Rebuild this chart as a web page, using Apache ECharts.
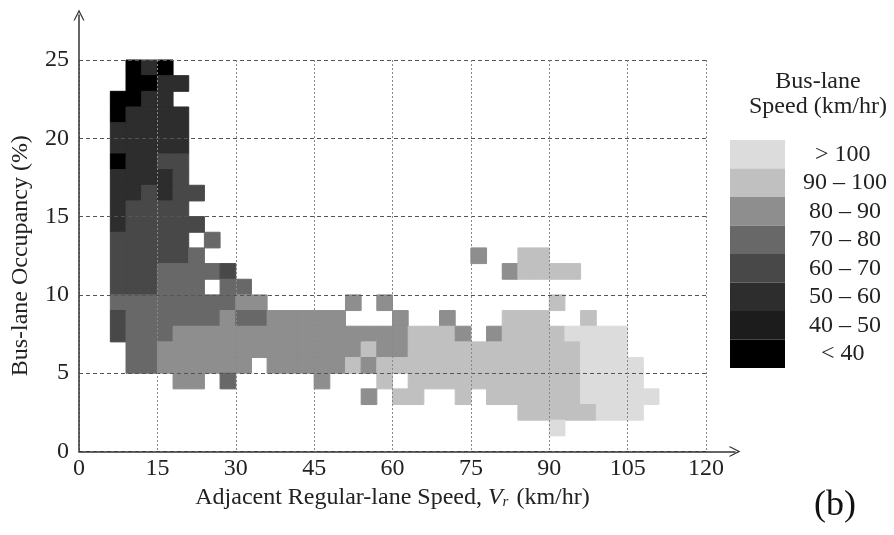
<!DOCTYPE html>
<html>
<head>
<meta charset="utf-8">
<title>Bus-lane speed</title>
<script src="https://cdn.jsdelivr.net/npm/echarts@6.0.0/dist/echarts.min.js"></script>
<style>
  html, body { margin: 0; padding: 0; background: #fff; }
  #chart { width: 894px; height: 535px; }
</style>
</head>
<body>
<div id="chart"></div>
<script>
// cell size of the binning: 3 km/hr wide, 1 % high
var cellSpeed = 3;
var cellOcc = 1;

// bus-lane speed classes (legend) and the speed used for each class
var binLabels = ['< 40', '40 \u2013 50', '50 \u2013 60', '60 \u2013 70', '70 \u2013 80', '80 \u2013 90', '90 \u2013 100', '> 100'];
var binSpeed = [35, 45, 55, 65, 75, 85, 95, 105];

// rows of cells, from occupancy 24-25 % down to 1-2 %
// each char is one 3 km/hr column starting at rowStart; '.' = no data, digit = index in binLabels
var rowOcc = [24, 23, 22, 21, 20, 19, 18, 17, 16, 15, 14, 13, 12, 11, 10, 9, 8, 7, 6, 5, 4, 3, 2, 1];
var rowStart = [3, 3, 2, 2, 2, 2, 2, 2, 2, 2, 2, 2, 2, 2, 2, 2, 2, 2, 2, 2, 6, 18, 28, 30];
var rowCells = [
  '020',
  '0022',
  '0022',
  '02222',
  '22222',
  '22222',
  '02233',
  '22223',
  '223233',
  '23333',
  '233333',
  '33333.4',
  '333334.................5..66',
  '33344443.................56666',
  '333444.44',
  '4444444455.....5.5..........6',
  '344444454455555...5..5...666..6',
  '34445555555555555556665.566667777',
  '.44555555555555565566666666666777',
  '.44555555.555556566666666666667777',
  '55.4.....5...6.666666666667777',
  '5.66..6.66666677777',
  '66666777',
  '7'
];

var xTicks = { min: 0, max: 120, step: 15 };
var yTicks = { min: 0, max: 25, step: 5 };

var binColors = ['#000000', '#1c1c1c', '#2d2d2d', '#484848', '#686868', '#8e8e8e', '#c0c0c0', '#dcdcdc'];
var serif = 'Liberation Serif';
var fs = 24;

var cells = [];
for (var i = 0; i < rowCells.length; i++) {
    var s = rowCells[i];
    for (var j = 0; j < s.length; j++) {
        if (s[j] === '.') continue;
        var col = rowStart[i] + j;
        cells.push([col * cellSpeed, rowOcc[i], binSpeed[+s[j]]]);
    }
}

// legend labels are centred in the reference: pad the short ones with spaces
var ctx = document.createElement('canvas').getContext('2d');
ctx.font = fs + 'px "' + serif + '"';
var widest = 0;
binLabels.forEach(function (l) { widest = Math.max(widest, ctx.measureText(l).width); });
var spaceW = ctx.measureText(' ').width;
function centred(l) {
    var n = Math.round((widest - ctx.measureText(l).width) / 2 / spaceW);
    return new Array(n + 1).join(' ') + l;
}

var pieces = [];
for (var k = 0; k < binLabels.length; k++) {
    pieces.push({ value: binSpeed[k], label: centred(binLabels[k]), color: binColors[k] });
}

// thin open arrow head
var arrowHead = 'path://M0,12 L6,0 L12,12 L10.6,12 L6,3 L1.4,12 Z';

var chart = echarts.init(document.getElementById('chart'));

var option = {
    animation: false,
    backgroundColor: '#fff',
    textStyle: { fontFamily: serif },
    title: {
        text: 'Bus-lane\nSpeed (km/hr)',
        left: 813,
        top: 64,
        textAlign: 'center',
        textStyle: { fontFamily: serif, fontSize: fs, fontWeight: 'normal', color: '#222', lineHeight: 25 }
    },
    grid: [
        { left: 79, right: 188, top: 60, bottom: 83.5 },
        { left: 79, right: 159, top: 15, bottom: 83.5 }
    ],
    xAxis: [{
        type: 'value',
        gridIndex: 0,
        min: xTicks.min,
        max: xTicks.max,
        interval: xTicks.step,
        axisLine: { show: false },
        axisTick: { show: false },
        axisLabel: { fontFamily: serif, fontSize: fs, color: '#222', margin: 5 },
        splitLine: { show: true, lineStyle: { color: '#888', type: [2, 2], width: 1 } },
        name: 'Adjacent Regular-lane Speed, {v|V}{r|r} (km/hr)',
        nameLocation: 'middle',
        nameGap: 33,
        nameTextStyle: {
            fontFamily: serif, fontSize: fs, color: '#222',
            rich: {
                v: { fontFamily: serif, fontSize: fs, fontStyle: 'italic', color: '#222' },
                r: { fontFamily: serif, fontSize: 15, fontStyle: 'italic', color: '#222', padding: [10, 2, 0, 0] }
            }
        }
    }, {
        type: 'value',
        gridIndex: 1,
        min: 0,
        max: 1,
        axisLine: { show: true, symbol: ['none', arrowHead], symbolSize: [11, 12], lineStyle: { color: '#333', width: 1.5 } },
        axisTick: { show: false },
        axisLabel: { show: false },
        splitLine: { show: false }
    }],
    yAxis: [{
        type: 'value',
        gridIndex: 0,
        min: yTicks.min,
        max: yTicks.max,
        interval: yTicks.step,
        axisLine: { show: false },
        axisTick: { show: false },
        axisLabel: { fontFamily: serif, fontSize: fs, color: '#222', margin: 10 },
        splitLine: { show: true, lineStyle: { color: '#555', type: [4, 3], width: 1 } },
        name: 'Bus-lane Occupancy (%)',
        nameLocation: 'middle',
        nameGap: 46,
        nameTextStyle: { fontFamily: serif, fontSize: fs, color: '#222' }
    }, {
        type: 'value',
        gridIndex: 1,
        min: 0,
        max: 1,
        axisLine: { show: true, symbol: ['none', arrowHead], symbolSize: [11, 12], lineStyle: { color: '#333', width: 1.5 } },
        axisTick: { show: false },
        axisLabel: { show: false },
        splitLine: { show: false }
    }],
    visualMap: {
        type: 'piecewise',
        dimension: 2,
        seriesIndex: 0,
        pieces: pieces,
        orient: 'vertical',
        align: 'left',
        left: 715,
        top: 125,
        itemWidth: 55,
        itemHeight: 28.5,
        itemGap: 0,
        itemSymbol: 'rect',
        textGap: 18,
        hoverLink: false,
        selectedMode: false,
        textStyle: { fontFamily: serif, fontSize: fs, color: '#222' }
    },
    graphic: [{
        type: 'text',
        left: 814,
        top: 488,
        style: { text: '(b)', font: '36px "Liberation Serif"', fill: '#111' }
    }],
    series: [{
        type: 'custom',
        coordinateSystem: 'cartesian2d',
        xAxisIndex: 0,
        yAxisIndex: 0,
        z: -1,
        encode: { x: 0, y: 1 },
        data: cells,
        renderItem: function (params, api) {
            var p = api.coord([api.value(0), api.value(1) + cellOcc]);
            var size = api.size([cellSpeed, cellOcc]);
            var c = api.visual('color');
            return {
                type: 'rect',
                shape: { x: p[0], y: p[1], width: size[0], height: size[1] },
                style: { fill: c, stroke: c, lineWidth: 1 }
            };
        }
    }]
};

chart.setOption(option);
</script>
</body>
</html>
